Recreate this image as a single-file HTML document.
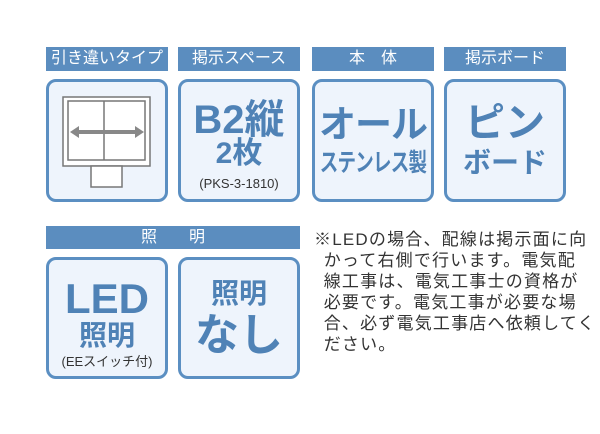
<!DOCTYPE html>
<html><head><meta charset="utf-8"><style>
body{margin:0;width:600px;height:434px;background:#fff;position:relative;overflow:hidden;font-family:"Liberation Sans","Noto Sans CJK JP",sans-serif}
.h{position:absolute;background:#5b8dbf;color:#fff;font-size:16px;text-align:center;line-height:24px;height:24px}
.b{position:absolute;box-sizing:border-box;border:3px solid #5b8fc2;border-radius:10px;background:#eef4fc}
.t{position:absolute;left:0;right:0;text-align:center;color:#4f82b6;font-weight:bold;white-space:nowrap;line-height:1}
.s{position:absolute;left:0;right:0;text-align:center;color:#333;font-size:13px;white-space:nowrap;line-height:1}
.note{position:absolute;left:314px;top:229px;font-size:17px;letter-spacing:1.2px;line-height:21px;color:#333;white-space:nowrap}
</style></head><body>
<div class="h" style="left:46px;top:47px;width:122px">引き違いタイプ</div>
<div class="h" style="left:178px;top:47px;width:122px">掲示スペース</div>
<div class="h" style="left:312px;top:47px;width:122px">本&emsp;体</div>
<div class="h" style="left:444px;top:47px;width:122px">掲示ボード</div>

<div class="b" style="left:46px;top:79px;width:122px;height:123px">
<svg width="116" height="117" style="position:absolute;left:0;top:0">
<rect x="14" y="15" width="87" height="69" fill="#fff" stroke="#777" stroke-width="1.5"/>
<rect x="19" y="19" width="77" height="59" fill="#fff" stroke="#777" stroke-width="1.5"/>
<line x1="55" y1="19" x2="55" y2="78" stroke="#777" stroke-width="1.5"/>
<rect x="42" y="84" width="31" height="21" fill="#fff" stroke="#777" stroke-width="1.5"/>
<line x1="28" y1="50" x2="88" y2="50" stroke="#888" stroke-width="4"/>
<polygon points="21,50 30,44 30,56" fill="#888"/>
<polygon points="95,50 86,44 86,56" fill="#888"/>
</svg></div>
<div class="b" style="left:178px;top:79px;width:122px;height:123px">
<div class="t" style="top:18px;font-size:40px">B2縦</div>
<div class="t" style="top:57px;font-size:30px">2枚</div>
<div class="s" style="top:95px">(PKS-3-1810)</div>
</div>
<div class="b" style="left:312px;top:79px;width:122px;height:123px">
<div class="t" style="top:24px;font-size:37px;letter-spacing:-1px">オール</div>
<div class="t" style="top:69px;left:-60px;right:-60px;font-size:25px;transform:scaleX(0.74);letter-spacing:-1px">ステンレス製</div>
</div>
<div class="b" style="left:444px;top:79px;width:122px;height:123px">
<div class="t" style="top:21px;font-size:40px">ピン</div>
<div class="t" style="top:67px;font-size:28px">ボード</div>
</div>

<div class="h" style="left:46px;top:226px;width:254px;height:23px;line-height:23px">照&emsp;&emsp;明</div>
<div class="b" style="left:46px;top:257px;width:122px;height:122px">
<div class="t" style="top:18px;font-size:42px">LED</div>
<div class="t" style="top:62px;font-size:28px">照明</div>
<div class="s" style="top:95px">(EEスイッチ付)</div>
</div>
<div class="b" style="left:178px;top:257px;width:122px;height:122px">
<div class="t" style="top:20px;font-size:28px">照明</div>
<div class="t" style="top:54px;font-size:44px">なし</div>
</div>

<div class="note">※LEDの場合、配線は掲示面に向<br>&ensp;かって右側で行います。電気配<br>&ensp;線工事は、電気工事士の資格が<br>&ensp;必要です。電気工事が必要な場<br>&ensp;合、必ず電気工事店へ依頼してく<br>&ensp;ださい。</div>
</body></html>
